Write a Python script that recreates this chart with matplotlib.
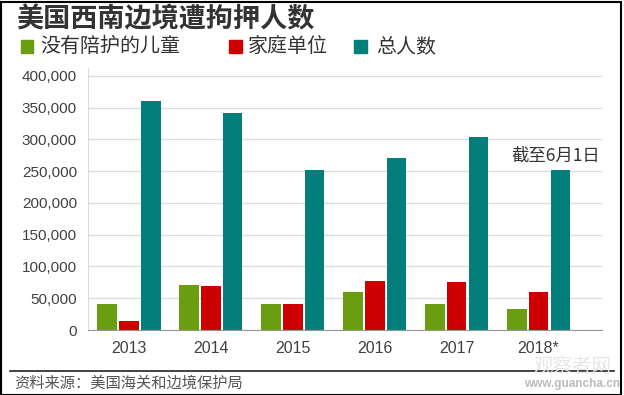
import matplotlib.pyplot as plt
import numpy as np
from matplotlib.lines import Line2D
from matplotlib.patches import Rectangle

plt.rcParams['font.family'] = ['Liberation Sans', 'Noto Sans CJK SC']

# 数据
years = ['2013', '2014', '2015', '2016', '2017', '2018*']
children = [40300, 70300, 40300, 60300, 41400, 33500]
families = [14600, 68700, 40300, 77600, 76000, 60300]
total = [360700, 342000, 252700, 271500, 304600, 252700]
series_names = ['没有陪护的儿童', '家庭单位', '总人数']
colors = ['#6a9e10', '#cc0000', '#037e7a']
yticks = [0, 50000, 100000, 150000, 200000, 250000, 300000, 350000, 400000]

W, H = 624, 395
fig = plt.figure(figsize=(W / 100, H / 100), dpi=100)
ax = fig.add_axes([88 / W, 1 - 330 / H, (601.7 - 88) / W, (330 - 67.7) / H])

x = np.arange(len(years))
bw = 0.238
off = 0.266
for i, vals in enumerate([children, families, total]):
    ax.bar(x + (i - 1) * off, vals, width=bw, color=colors[i], zorder=3)

ax.set_xlim(-0.5, 5.77)
ax.set_ylim(0, 413000)
ax.set_yticks(yticks)
ax.set_yticklabels([f'{v:,}' for v in yticks])
ax.set_xticks(x)
ax.set_xticklabels(years)
ax.tick_params(axis='y', length=0, pad=8, labelsize=11, labelcolor='#404040')
ax.tick_params(axis='x', length=0, pad=8, labelsize=11.5, labelcolor='#404040')
ax.grid(axis='y', color='#dddddd', linewidth=1, zorder=0)
for s in ['top', 'right']:
    ax.spines[s].set_visible(False)
ax.spines['left'].set_color('#dddddd')
ax.spines['bottom'].set_color('#999999')
ax.spines['bottom'].set_zorder(4)

ax.text(5.21, 274000, '截至6月1日', fontsize=12.5, color='#333333',
        family=['Noto Sans CJK SC', 'DejaVu Sans'], ha='center', va='center')

# 标题
fig.text(16 / W, 1 - 19 / H, '美国西南边境遭拘押人数', fontsize=19.5, fontweight='bold',
         color='#333333', family=['Noto Sans CJK SC'], va='center')

# 图例
leg_sq = [20.7, 229, 354]
leg_tx = [40, 248, 376]
for sq, tx, name, c in zip(leg_sq, leg_tx, series_names, colors):
    fig.patches.append(Rectangle((sq / W, 1 - 52.7 / H), 12.6 / W, 12.6 / H,
                                 transform=fig.transFigure, color=c))
    fig.text(tx / W, 1 - 46.5 / H, name, fontsize=14.4, color='#333333',
             family=['Noto Sans CJK SC'], va='center')

# 底部
fig.lines.append(Line2D([10 / W, 614 / W], [1 - 371 / H, 1 - 371 / H],
                        transform=fig.transFigure, color='#222222', linewidth=1.2))
fig.text(14 / W, 1 - 383 / H, '资料来源：美国海关和边境保护局', fontsize=11, color='#555555',
         family=['Noto Sans CJK SC'], va='center')
# 水印
fig.text(572 / W, 1 - 366 / H, '观察者网', fontsize=14, color='#e6e6e6',
         family=['Noto Sans CJK SC'], ha='center', va='center')
fig.text(572 / W, 1 - 384 / H, 'www.guancha.cn', fontsize=8.5, color='#bbbbbb',
         fontweight='bold', ha='center', va='center')

# 黑色边框
fig.patches.append(Rectangle((0.5 / W, 0.5 / H), (W - 4) / W, (H - 2) / H,
                             transform=fig.transFigure, fill=False,
                             edgecolor='black', linewidth=1.5))

fig.savefig('out.png', dpi=100)
plt.close(fig)
